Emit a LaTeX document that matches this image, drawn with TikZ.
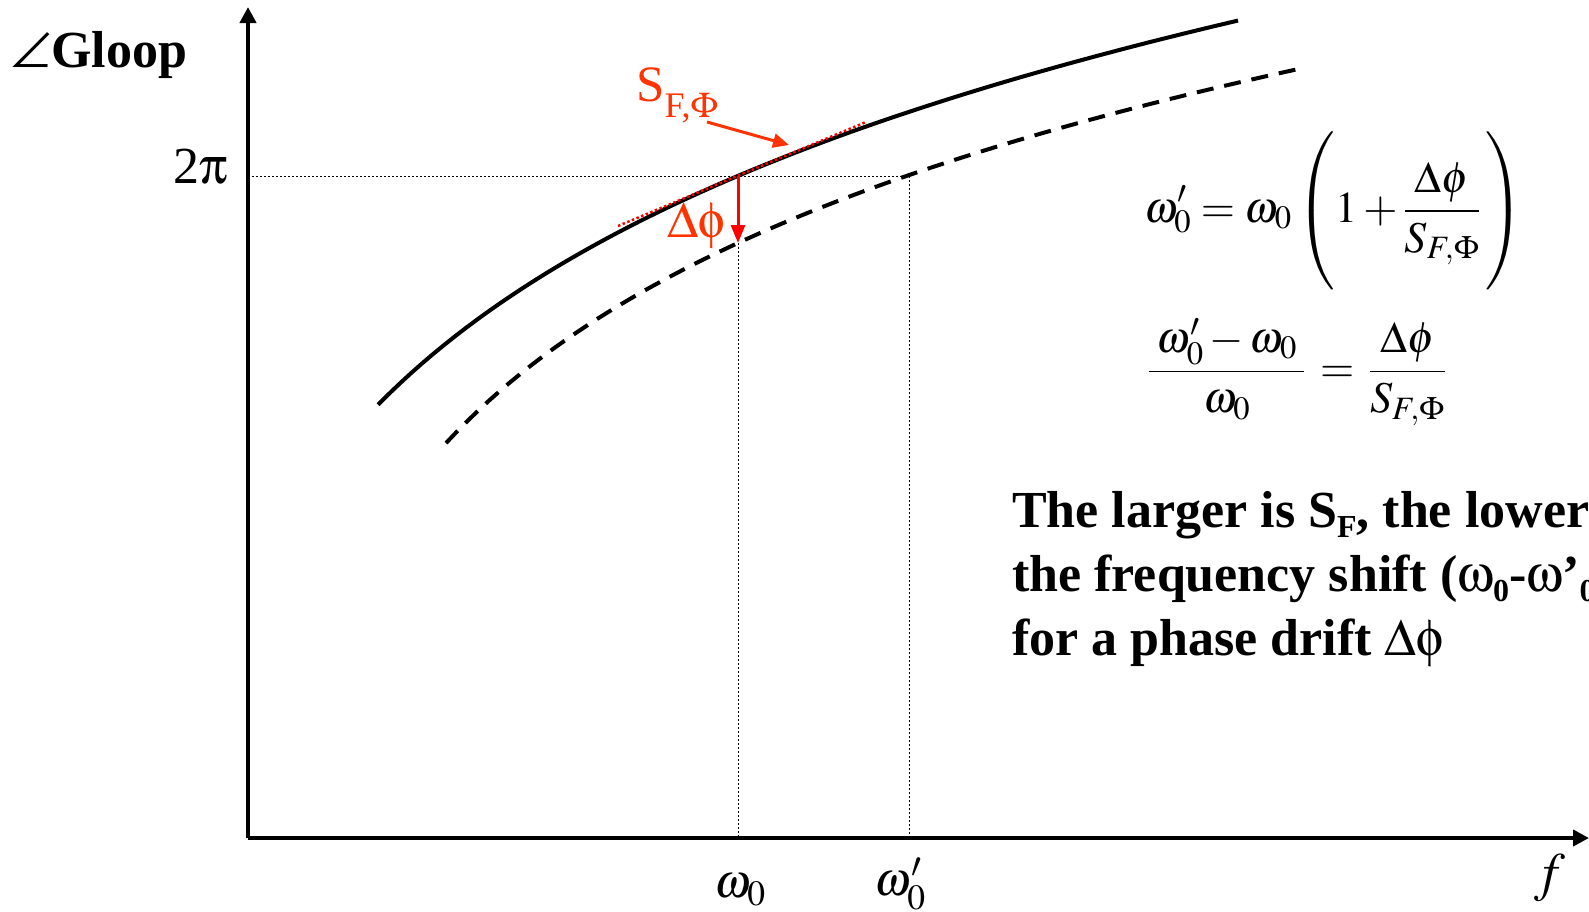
\documentclass[tikz,border=0pt]{standalone}
\usepackage{amsmath}
\usepackage{mathptmx}
\usepackage{pifont}
\usepackage{fontspec}
\setmainfont{Liberation Serif}
\usetikzlibrary{arrows.meta}
\definecolor{sred}{RGB}{255,51,0}
\definecolor{dred}{RGB}{255,0,0}
\newcommand{\symg}[1]{\Pisymbol{psy}{#1}}
\begin{document}
\begin{tikzpicture}[x=1pt,y=-1pt,
  axis/.style={line width=4pt,-{Triangle[length=16pt,width=16pt]}},
  curve/.style={line width=4pt},
  dashcurve/.style={line width=4pt,dash pattern=on 17pt off 11pt},
  guide/.style={line width=0.7pt,dash pattern=on 2pt off 2pt},
  tangent/.style={dred,line width=2.5pt,dash pattern=on 2.5pt off 2.5pt},
  dphiarrow/.style={dred,line width=3pt,-{Triangle[length=18pt,width=14pt]}},
  sarrow/.style={sred,line width=3pt,-{Triangle[length=16pt,width=14pt]}},
  mlabel/.style={inner sep=0pt,font=\fontsize{48}{52}\selectfont},
  eqn/.style={inner sep=0pt,font=\fontsize{44}{50}\selectfont},
  msg/.style={anchor=base west,inner sep=0pt,font=\bfseries\fontsize{52}{64}\selectfont},
  redlbl/.style={inner sep=0pt,text=sred,font=\fontsize{51}{54}\selectfont}]
\clip (0,0) rectangle (1589,911);
\coordinate (O) at (248,838);
\coordinate (ytop) at (248,7);
\coordinate (xend) at (1589,838);
\coordinate (P0) at (738,176);
\coordinate (Q0) at (738,243);
\coordinate (Q1) at (909,176);
\coordinate (T1) at (618,226);
\coordinate (T2) at (866,122);
\coordinate (A1) at (707,122);
\coordinate (A2) at (789,145);
% guides
\draw[guide] (O |- P0) -- (Q1);
\draw[guide] (Q0) -- (Q0 |- O);
\draw[guide] (Q1) -- (Q1 |- O);
% axes
\draw[axis] (O) -- (ytop);
\draw[axis] (O) -- (xend);
% curves
\draw[curve] plot[domain=378:1238,samples=80] (\x,{1859.6-262*ln(\x-120)});
\draw[dashcurve] plot[domain=446:1297,samples=80] (\x,{1700.9-234*ln(\x-230)});
% tangent and arrows
\draw[tangent] (T1) -- (T2);
\draw[dphiarrow] (P0) -- (Q0);
\draw[sarrow] (A1) -- (A2);
% labels
\node[anchor=base west,inner sep=0pt,font=\bfseries\fontsize{52}{56}\selectfont] (gloop) at (11,67) {\symg{208}Gloop};
\node[anchor=base east,inner sep=0pt,font=\fontsize{52}{56}\selectfont] (twopi) at (228,183) {2\symg{112}};
\node[redlbl,anchor=base west] (slbl) at (636,101) {S\raisebox{-16pt}{\fontsize{36}{36}\selectfont F,\symg{70}}};
\node[redlbl] (dphi) at (696,226) {\symg{68}\symg{102}};
\node[mlabel] (om0) at (740,890) {$\omega_0$};
\node[mlabel] (om1) at (900,884) {$\omega_0'$};
\node[inner sep=0pt,font=\fontsize{54}{58}\selectfont] (flbl) at (1550,878) {$f$};
% equations
\node[eqn] (eq1) at (1334,211) {$\displaystyle \omega_0' = \omega_0\left(\vrule height 80pt depth 58pt width 0pt 1+\frac{\Delta\phi}{S_{F,\Phi}}\,\right)$};
\node[eqn] (eq2) at (1297,372) {$\displaystyle \frac{\mkern3mu\omega_0'-\omega_0\mkern3mu}{\omega_0}\mkern2mu=\mkern2mu\frac{\mkern3mu\Delta\phi\mkern3mu}{S_{F,\Phi}}$};
% message
\node[msg] (msgA) at (1012,527) {The larger is S\raisebox{-10pt}{\fontsize{32}{32}\selectfont F}, the lower};
\node[msg] (msgB) at (1012,591) {the frequency shift (\symg{119}\raisebox{-10pt}{\fontsize{32}{32}\selectfont 0}-\symg{119}’\raisebox{-10pt}{\fontsize{32}{32}\selectfont 0})};
\node[msg] (msgC) at (1012,655) {for a phase drift \symg{68}\symg{102}};
\end{tikzpicture}
\end{document}
